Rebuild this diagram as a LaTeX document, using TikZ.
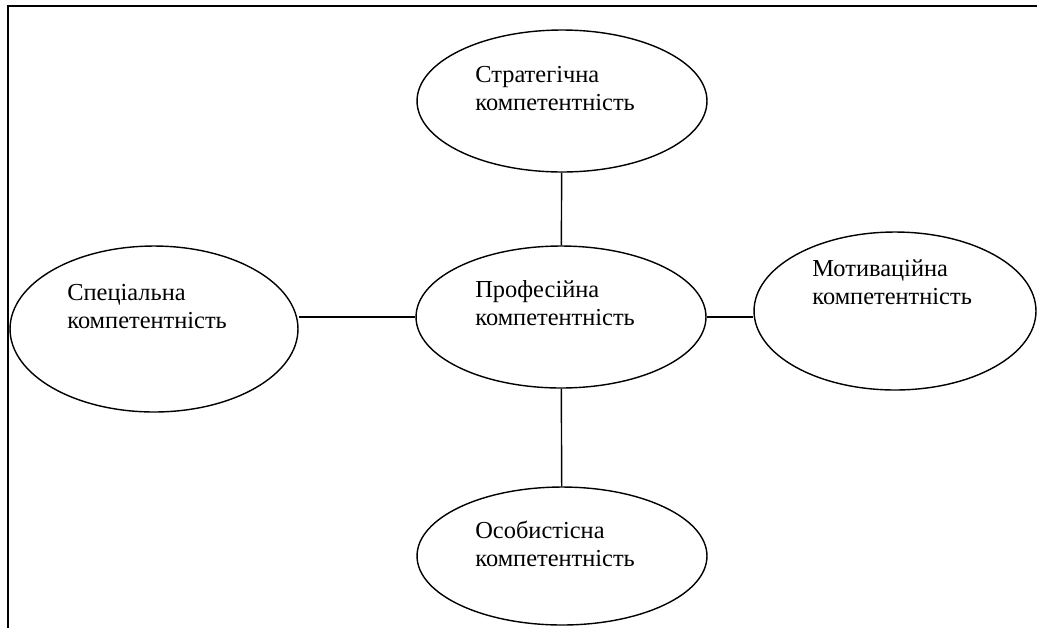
\documentclass[tikz,border=0pt]{standalone}
\usepackage{fontspec}
\setmainfont{Liberation Serif}
\usetikzlibrary{shapes.geometric}

\tikzset{
  comp/.style={ellipse, draw, line width=0.8pt, minimum width=5.8cm, minimum height=2.84cm, inner sep=0pt},
  lbl/.style={anchor=base west, align=left, inner sep=0pt, font=\fontsize{13.9}{15.9}\selectfont}
}

\begin{document}
\begin{tikzpicture}[x=0.02cm, y=-0.02cm]
        \useasboundingbox (0,0) rectangle (1037,627);
        \clip (0,0) rectangle (1037,627);
        % frame
        \draw[line width=1pt] (8,6) rectangle (1060,660);
        % competences
        \node[comp] (strat) at (562,101) {};
        \node[comp] (prof) at (561,317) {};
        \node[comp, minimum height=3.32cm, minimum width=5.76cm] (spec) at (154,329) {};
        \node[comp, minimum height=3.16cm, minimum width=5.64cm] (motiv) at (895,311) {};
        \node[comp, minimum height=2.76cm] (osob) at (562,556) {};
        % texts
        \node[lbl] (strat-t) at (475,110) {Стратегічна\\компетентність};
        \node[lbl] (prof-t) at (475,325) {Професійна\\компетентність};
        \node[lbl] (spec-t) at (67,328) {Спеціальна\\компетентність};
        \node[lbl] (motiv-t) at (812,304) {Мотиваційна\\компетентність};
        \node[lbl] (osob-t) at (475,566) {Особистісна\\компетентність};
        % links to the centre
        \draw[line width=0.8pt] (strat) -- (prof);
        \draw[line width=0.8pt] (prof.west) -- (spec.east |- prof.west);
        \draw[line width=0.8pt] (prof.east) -- (motiv.west |- prof.east);
        \draw[line width=0.8pt] (prof) -- (osob);
    \end{tikzpicture}
\end{document}
